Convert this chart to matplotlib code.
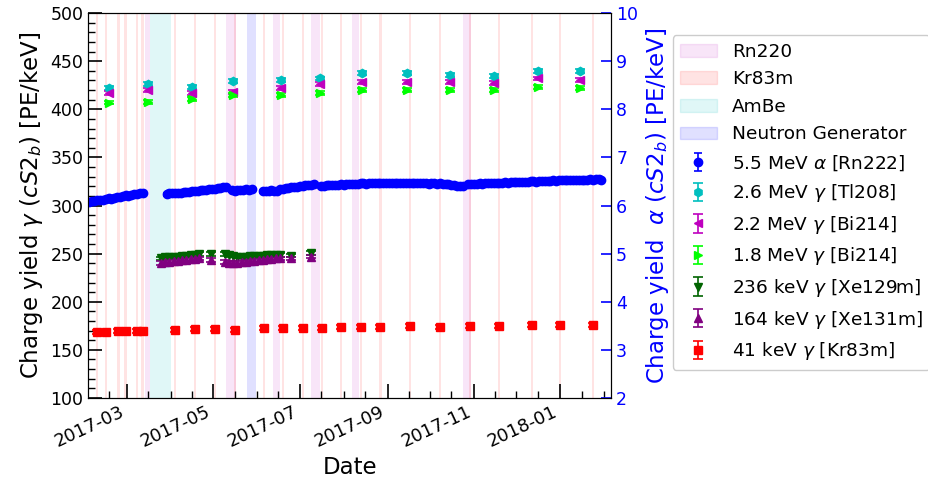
import matplotlib
matplotlib.use('Agg')
import matplotlib.pyplot as plt
import matplotlib.dates as mdates
import matplotlib.patches as mpatches
import numpy as np
import pandas as pd

# calibration periods (start, end)
rn220_runs = [('2017-03-14', '2017-03-17'), ('2017-05-10', '2017-05-17'),
              ('2017-06-12', '2017-06-17'), ('2017-07-09', '2017-07-15'),
              ('2017-08-07', '2017-08-12'), ('2017-10-24', '2017-10-30')]
ambe_run = ('2017-03-17', '2017-04-01')
ng_run = ('2017-05-25', '2017-05-31')

# 41 keV Kr83m (dates are also the Kr83m calibration days)
kr_dates = ['2017-02-08', '2017-02-14', '2017-02-23', '2017-02-28', '2017-03-08',
            '2017-03-12', '2017-04-04', '2017-04-18', '2017-05-02', '2017-05-16',
            '2017-06-06', '2017-06-19', '2017-07-03', '2017-07-17', '2017-07-30',
            '2017-08-13', '2017-08-27', '2017-09-17', '2017-10-08', '2017-10-29',
            '2017-11-19', '2017-12-12', '2018-01-01', '2018-01-24']
kr_cy = [169, 169, 170, 170, 170, 170, 171, 172, 172, 171, 173, 173,
         173, 173, 174, 174, 174, 175, 174, 175, 175, 176, 176, 176]

# high energy gammas, monthly
hg_dates = ['2017-02-16', '2017-03-16', '2017-04-16', '2017-05-15', '2017-06-18',
            '2017-07-15', '2017-08-14', '2017-09-15', '2017-10-15', '2017-11-15',
            '2017-12-16', '2018-01-15']
tl208_cy = [422, 426, 423, 429, 430, 432, 438, 438, 436, 435, 440, 440]
bi214_22_cy = [417, 420, 417, 418, 422, 426, 428, 428, 428, 427, 432, 430]
bi214_18_cy = [407, 408, 411, 415, 415, 417, 420, 420, 420, 420, 423, 422]

# activated xenon lines after AmBe
xe_dates = ['2017-03-25', '2017-03-28', '2017-03-31', '2017-04-03', '2017-04-06',
            '2017-04-09', '2017-04-12', '2017-04-15', '2017-04-18', '2017-04-21',
            '2017-04-29', '2017-05-09', '2017-05-12', '2017-05-15', '2017-05-18',
            '2017-05-21', '2017-05-24', '2017-05-27', '2017-05-30', '2017-06-02',
            '2017-06-05', '2017-06-08', '2017-06-11', '2017-06-14', '2017-06-17',
            '2017-06-25', '2017-07-09']
xe129_cy = [245, 246, 246, 247, 247, 248, 248, 249, 249, 250, 250, 250, 249, 248,
            247, 247, 247, 248, 248, 248, 248, 249, 249, 249, 249, 248, 251]
xe131_cy = [240, 241, 241, 242, 242, 243, 243, 244, 244, 245, 243, 241, 240, 240,
            240, 241, 241, 242, 242, 243, 243, 244, 244, 245, 245, 245, 247]

# Rn222 alpha, days since 2017-02-01, right axis
rn_day = [1, 3, 5, 7, 9, 11, 13, 15, 17, 19, 21, 23, 25, 27, 29, 31, 33, 35, 37, 39,
          56, 58, 60, 62, 64, 66, 68, 70, 72, 74, 76, 78, 80, 82, 84, 86, 88, 90, 92, 94, 96, 98,
          102, 104, 106, 108, 110, 112, 114, 116,
          124, 126, 128, 130, 132, 134,
          136, 138, 140, 142, 144, 146, 148, 150, 152, 154, 156, 158, 160,
          165, 167, 169, 171, 173, 175, 177, 179, 181, 183, 185, 187, 189,
          191, 193, 195, 197, 199, 201, 203, 205, 207, 209, 211, 213, 215, 217, 219, 221,
          223, 225, 227, 229, 231, 233, 235, 237, 239, 241, 243, 245, 247, 249, 251, 253,
          255, 257, 259, 261, 263, 265,
          269, 271, 273, 275, 277, 279, 281, 283, 285, 287, 289, 291, 293, 295, 297, 299,
          301, 303, 305, 307, 309, 311, 313, 315, 317, 319, 321, 323, 325, 327, 329, 331,
          333, 335, 337, 339, 341, 343, 345, 347, 349, 351, 353, 355, 357, 359, 361, 363]
rn_cy = [6.07, 6.09, 6.09, 6.11, 6.12, 6.12, 6.14, 6.15, 6.14, 6.16,
         6.18, 6.18, 6.20, 6.21, 6.20, 6.22, 6.24, 6.24, 6.25, 6.26,
         6.23, 6.25, 6.25, 6.26, 6.27, 6.27, 6.28, 6.29, 6.29, 6.30, 6.31,
         6.31, 6.32, 6.33, 6.33, 6.34, 6.35, 6.35, 6.36, 6.37, 6.38, 6.39,
         6.32, 6.31, 6.33, 6.32, 6.33, 6.34, 6.33, 6.34,
         6.30, 6.31, 6.31, 6.32, 6.31, 6.31,
         6.34, 6.35, 6.36, 6.37, 6.38, 6.38, 6.39, 6.40, 6.41, 6.42, 6.42, 6.43, 6.44,
         6.41, 6.41, 6.42, 6.42, 6.43, 6.42, 6.43, 6.44, 6.43, 6.44, 6.44, 6.45, 6.44,
         6.45, 6.46, 6.46, 6.45, 6.46, 6.47, 6.46, 6.46, 6.47, 6.46,
         6.47, 6.47, 6.46, 6.47, 6.46, 6.46, 6.47, 6.47, 6.46, 6.47,
         6.47, 6.46, 6.46, 6.47, 6.46, 6.45, 6.46, 6.46, 6.45, 6.46,
         6.45, 6.45, 6.44, 6.43, 6.42, 6.41, 6.40, 6.41,
         6.44, 6.45, 6.45, 6.45, 6.46, 6.45, 6.46, 6.46, 6.47, 6.46,
         6.47, 6.47, 6.47, 6.48, 6.47, 6.48, 6.48, 6.49, 6.48, 6.49,
         6.49, 6.49, 6.50, 6.50, 6.49, 6.50, 6.51, 6.50, 6.51, 6.51,
         6.52, 6.51, 6.52, 6.52, 6.53, 6.52, 6.53, 6.53, 6.54, 6.53,
         6.54, 6.54, 6.54, 6.55, 6.54, 6.55, 6.55, 6.54]

c_rn220 = (0.75, 0.0, 0.75, 0.1)
c_kr = (1.0, 0.0, 0.0, 0.11)
c_ambe = (0.0, 0.75, 0.75, 0.12)
c_ng = (0.0, 0.0, 1.0, 0.12)

fig, ax = plt.subplots(figsize=(9.29, 4.83), dpi=100)
fig.subplots_adjust(left=0.095, right=0.658, bottom=0.176, top=0.973)
ax2 = ax.twinx()

d = pd.to_datetime
for s, e in rn220_runs:
    ax.axvspan(d(s), d(e), color=c_rn220, lw=0, zorder=0)
for k in kr_dates:
    ax.axvspan(d(k) - pd.Timedelta(hours=18), d(k) + pd.Timedelta(hours=18), color=c_kr, lw=0, zorder=0)
ax.axvspan(d(ambe_run[0]), d(ambe_run[1]), color=c_ambe, lw=0, zorder=0)
ax.axvspan(d(ng_run[0]), d(ng_run[1]), color=c_ng, lw=0, zorder=0)

eb = dict(ls='none', capsize=3.5, elinewidth=1.2, capthick=1.2, ms=6)
h_tl = ax.errorbar(d(hg_dates), tl208_cy, yerr=2, fmt='h', color='c', label='2.6 MeV $\\gamma$ [Tl208]', **eb)
h_b22 = ax.errorbar(d(hg_dates), bi214_22_cy, yerr=2, fmt='<', color='m', label='2.2 MeV $\\gamma$ [Bi214]', **eb)
h_b18 = ax.errorbar(d(hg_dates), bi214_18_cy, yerr=2, fmt='>', color='lime', label='1.8 MeV $\\gamma$ [Bi214]', **eb)
h_x129 = ax.errorbar(d(xe_dates), xe129_cy, yerr=2, fmt='v', color='darkgreen', label='236 keV $\\gamma$ [Xe129m]', **eb)
h_x131 = ax.errorbar(d(xe_dates), xe131_cy, yerr=2, fmt='^', color='purple', label='164 keV $\\gamma$ [Xe131m]', **eb)
h_kr = ax.errorbar(d(kr_dates), kr_cy, yerr=2, fmt='s', color='r', label='41 keV $\\gamma$ [Kr83m]', **eb)

rn_t = pd.Timestamp('2017-02-01') + pd.to_timedelta(rn_day, unit='D')
h_rn = ax2.errorbar(rn_t, rn_cy, yerr=0.03, fmt='o', color='b', label='5.5 MeV $\\alpha$ [Rn222]',
                    ls='none', capsize=3, elinewidth=1.2, capthick=1.2, ms=6)

ax.set_xlim(pd.Timestamp('2017-02-01 16:00'), pd.Timestamp('2018-02-06'))
ax.set_ylim(100, 500)
ax2.set_ylim(2, 10)

ax.xaxis.set_major_locator(mdates.MonthLocator(bymonth=[1, 3, 5, 7, 9, 11]))
ax.xaxis.set_minor_locator(mdates.DayLocator(bymonthday=[1, 16]))
ax.xaxis.set_major_formatter(mdates.DateFormatter('%Y-%m'))
ax.yaxis.set_major_locator(plt.MultipleLocator(50))
ax.yaxis.set_minor_locator(plt.MultipleLocator(10))
ax2.yaxis.set_major_locator(plt.MultipleLocator(1))

ax.tick_params(which='major', direction='in', length=10, width=1.2, labelsize=12.5, right=False, top=False)
ax.tick_params(axis='x', labelsize=13)
ax.tick_params(which='minor', direction='in', length=5, width=1, right=False, top=False)
ax2.tick_params(which='major', direction='in', length=7, width=1.2, labelsize=12.5, colors='b')
for lbl in ax.get_xticklabels():
    lbl.set_rotation(25)
    lbl.set_ha('right')

ax.set_xlabel('Date', fontsize=16.5)
ax.set_ylabel('Charge yield $\\gamma$ ($cS2_b$) [PE/keV]', fontsize=16.5)
ax2.set_ylabel('Charge yield  $\\alpha$ ($cS2_b$) [PE/keV]', fontsize=16.5, color='b')

handles = [mpatches.Patch(color=c_rn220, label='Rn220'),
           mpatches.Patch(color=c_kr, label='Kr83m'),
           mpatches.Patch(color=c_ambe, label='AmBe'),
           mpatches.Patch(color=c_ng, label='Neutron Generator'),
           h_rn, h_tl, h_b22, h_b18, h_x129, h_x131, h_kr]
fig.legend(handles=handles, labels=[h.get_label() for h in handles], loc='upper left',
           bbox_to_anchor=(0.724, 0.927), fontsize=13.3, labelspacing=0.52,
           borderaxespad=0, framealpha=1, edgecolor='#cccccc')

fig.savefig('out.png', dpi=100)
